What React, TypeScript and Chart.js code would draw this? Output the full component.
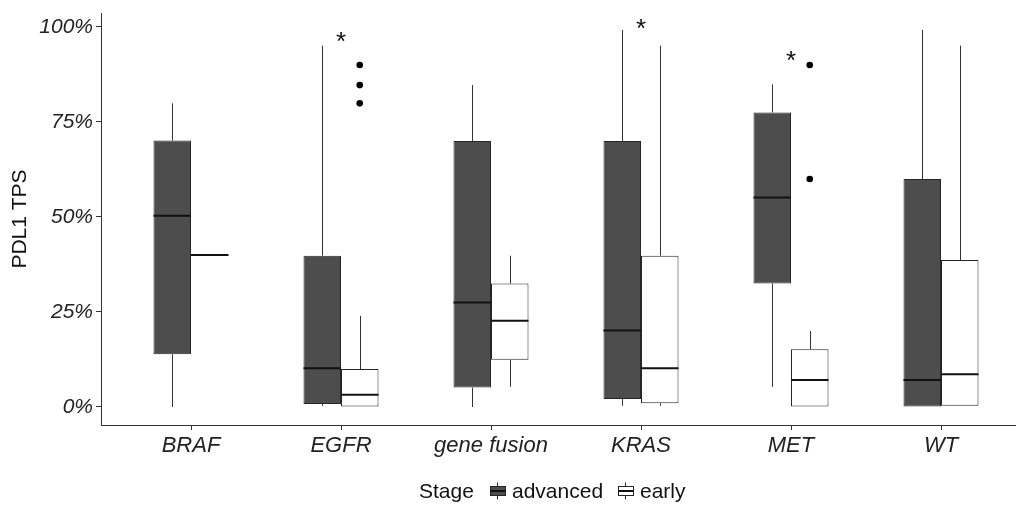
import React, { useEffect, useRef } from 'react';
import { Chart, registerables } from 'chart.js';

Chart.register(...registerables);

// ---------- data ----------
const categories = ['BRAF', 'EGFR', 'gene fusion', 'KRAS', 'MET', 'WT'];
const yTickValues = [0, 25, 50, 75, 100];

const advancedLow = [0, 0.3, 0, 0.3, 5.3, 0];
const advancedQ1 = [13.9, 0.8, 5.1, 2.1, 32.5, 0];
const advancedMedian = [50.3, 10.2, 27.5, 20.1, 55.1, 7.1];
const advancedQ3 = [70.1, 39.8, 70, 70, 77.5, 60];
const advancedHigh = [79.9, 95.1, 84.7, 99.2, 84.9, 99.2];

const earlyLow = [40, 0, 5.3, 0.3, 0, 0.3];
const earlyQ1 = [40, 0, 12.4, 1, 0, 0.3];
const earlyMedian = [40, 3.2, 22.7, 10.2, 7.1, 8.6];
const earlyQ3 = [40, 10, 32.5, 39.8, 15.2, 38.7];
const earlyHigh = [40, 24, 39.8, 95.1, 20, 95.1];

// outliers of the "early" group: category index and value
const earlyOutlierCategory = [1, 1, 1, 4, 4];
const earlyOutlierValue = [90, 84.7, 79.9, 90, 60];

// significance asterisks: category index and value
const starCategory = [1, 3, 4];
const starValue = [97.9, 101.4, 93];

const legendTitle = 'Stage';
const seriesNames = ['advanced', 'early'];

// ---------- styling ----------
const FONT = "'Liberation Sans', Arial, Helvetica, sans-serif";
const DARK = '#4d4d4d';
const LINE = '#262626';
const CAT_PCT = 0.5;
const EARLY_OFFSET = CAT_PCT / 4; // centre of the second bar in a group

const boxExtras = {
  id: 'boxExtras',
  afterDatasetsDraw(chart: any) {
    const ctx = chart.ctx as CanvasRenderingContext2D;
    const y = chart.scales.y;
    const x = chart.scales.x;
    const groups = [
      { ds: 0, low: advancedLow, q1: advancedQ1, med: advancedMedian, q3: advancedQ3, high: advancedHigh },
      { ds: 1, low: earlyLow, q1: earlyQ1, med: earlyMedian, q3: earlyQ3, high: earlyHigh },
    ];
    ctx.save();
    groups.forEach((g) => {
      const meta = chart.getDatasetMeta(g.ds);
      meta.data.forEach((bar: any, i: number) => {
        const props = bar.getProps(['x', 'width'], true);
        const cx = Math.round(props.x) + 0.5;
        ctx.strokeStyle = '#333';
        ctx.lineWidth = 1;
        ctx.beginPath();
        ctx.moveTo(cx, y.getPixelForValue(g.q3[i]));
        ctx.lineTo(cx, y.getPixelForValue(g.high[i]));
        ctx.moveTo(cx, y.getPixelForValue(g.q1[i]));
        ctx.lineTo(cx, y.getPixelForValue(g.low[i]));
        ctx.stroke();
        const my = y.getPixelForValue(g.med[i]);
        ctx.strokeStyle = '#111';
        ctx.lineWidth = 2;
        ctx.beginPath();
        ctx.moveTo(props.x - props.width / 2, my);
        ctx.lineTo(props.x + props.width / 2, my);
        ctx.stroke();
      });
    });
    // asterisks
    const size = 26;
    ctx.fillStyle = '#111';
    ctx.font = `${size}px ${FONT}`;
    ctx.textAlign = 'center';
    ctx.textBaseline = 'alphabetic';
    starCategory.forEach((c, i) => {
      const px = x.getPixelForValue(c);
      const py = y.getPixelForValue(starValue[i]);
      ctx.fillText('*', px, py + size * 0.58);
    });
    ctx.restore();
  },
  afterDraw(chart: any) {
    const ctx = chart.ctx as CanvasRenderingContext2D;
    ctx.save();
    const baseline = 498;
    const mid = 491;
    ctx.font = `21px ${FONT}`;
    ctx.fillStyle = '#111';
    ctx.textAlign = 'left';
    ctx.textBaseline = 'alphabetic';
    ctx.fillText(legendTitle, 419, baseline);
    const glyph = (gx: number, fill: string) => {
      ctx.strokeStyle = LINE;
      ctx.lineWidth = 1;
      ctx.beginPath();
      ctx.moveTo(gx + 7.5, mid - 8.5);
      ctx.lineTo(gx + 7.5, mid + 8.5);
      ctx.stroke();
      ctx.fillStyle = fill;
      ctx.fillRect(gx + 0.5, mid - 4.5, 15, 9);
      ctx.strokeRect(gx + 0.5, mid - 4.5, 15, 9);
      ctx.strokeStyle = '#111';
      ctx.lineWidth = 2;
      ctx.beginPath();
      ctx.moveTo(gx + 0.5, mid);
      ctx.lineTo(gx + 15.5, mid);
      ctx.stroke();
    };
    glyph(490, DARK);
    ctx.fillStyle = '#111';
    ctx.fillText(seriesNames[0], 512, baseline);
    glyph(618, '#ffffff');
    ctx.fillStyle = '#111';
    ctx.fillText(seriesNames[1], 640, baseline);
    ctx.restore();
  },
};

export default function App() {
  const canvasRef = useRef<HTMLCanvasElement | null>(null);

  useEffect(() => {
    document.body.style.margin = '0';
    const canvas = canvasRef.current;
    if (!canvas) return;

    const boxData = (q1: number[], q3: number[]) =>
      categories.map((_, i) => ({ x: i, y: [q1[i], q3[i]] }));

    const chart = new Chart(canvas, {
      type: 'bar',
      data: {
        datasets: [
          {
            type: 'bar',
            label: seriesNames[0],
            data: boxData(advancedQ1, advancedQ3) as any,
            backgroundColor: DARK,
            borderColor: LINE,
            borderWidth: 1,
            borderSkipped: false,
            categoryPercentage: CAT_PCT,
            barPercentage: 1,
          },
          {
            type: 'bar',
            label: seriesNames[1],
            data: boxData(earlyQ1, earlyQ3) as any,
            backgroundColor: '#ffffff',
            borderColor: LINE,
            borderWidth: 1,
            borderSkipped: false,
            categoryPercentage: CAT_PCT,
            barPercentage: 1,
          },
          {
            type: 'scatter',
            label: 'outliers',
            data: earlyOutlierCategory.map((c, i) => ({ x: c + EARLY_OFFSET, y: earlyOutlierValue[i] })) as any,
            backgroundColor: '#000',
            borderWidth: 0,
            pointRadius: 3.3,
          } as any,
        ],
      },
      options: {
        responsive: false,
        animation: false,
        layout: { autoPadding: false, padding: { top: 13, right: 0, left: 0, bottom: 0 } },
        plugins: { legend: { display: false }, tooltip: { enabled: false } },
        scales: {
          x: {
            type: 'linear',
            min: -0.6,
            max: 5.5,
            offset: false,
            afterBuildTicks: (s: any) => {
              s.ticks = categories.map((_, i) => ({ value: i }));
            },
            afterFit: (s: any) => {
              s.height = 81;
              s.paddingLeft = 0;
              s.paddingRight = 0;
            },
            ticks: {
              autoSkip: false,
              maxRotation: 0,
              padding: 3,
              color: '#222',
              font: { family: FONT, size: 22, style: 'italic' },
              callback: (_v: any, idx: number) => categories[idx],
            },
            grid: { display: true, drawOnChartArea: false, drawTicks: true, tickLength: 5, color: '#333', offset: false },
            border: { display: true, color: '#333', width: 1 },
          } as any,
          y: {
            type: 'linear',
            min: -4.74,
            max: 103.68,
            afterBuildTicks: (s: any) => {
              s.ticks = yTickValues.map((v) => ({ value: v }));
            },
            afterFit: (s: any) => {
              s.width = 101;
              s.paddingTop = 0;
              s.paddingBottom = 0;
            },
            ticks: {
              padding: 3,
              color: '#222',
              font: { family: FONT, size: 21, style: 'italic' },
              callback: (v: any) => `${v}%`,
            },
            grid: { display: true, drawOnChartArea: false, drawTicks: true, tickLength: 5, color: '#333' },
            border: { display: true, color: '#333', width: 1 },
            title: {
              display: true,
              text: 'PDL1 TPS',
              color: '#111',
              font: { family: FONT, size: 21 },
              padding: { top: 8, bottom: 0 },
            },
          } as any,
        },
      },
      plugins: [boxExtras],
    });

    return () => chart.destroy();
  }, []);

  return (
    <div style={{ width: 1016, height: 506, position: 'relative' }}>
      <canvas ref={canvasRef} width={1016} height={506} style={{ display: 'block' }} />
    </div>
  );
}
